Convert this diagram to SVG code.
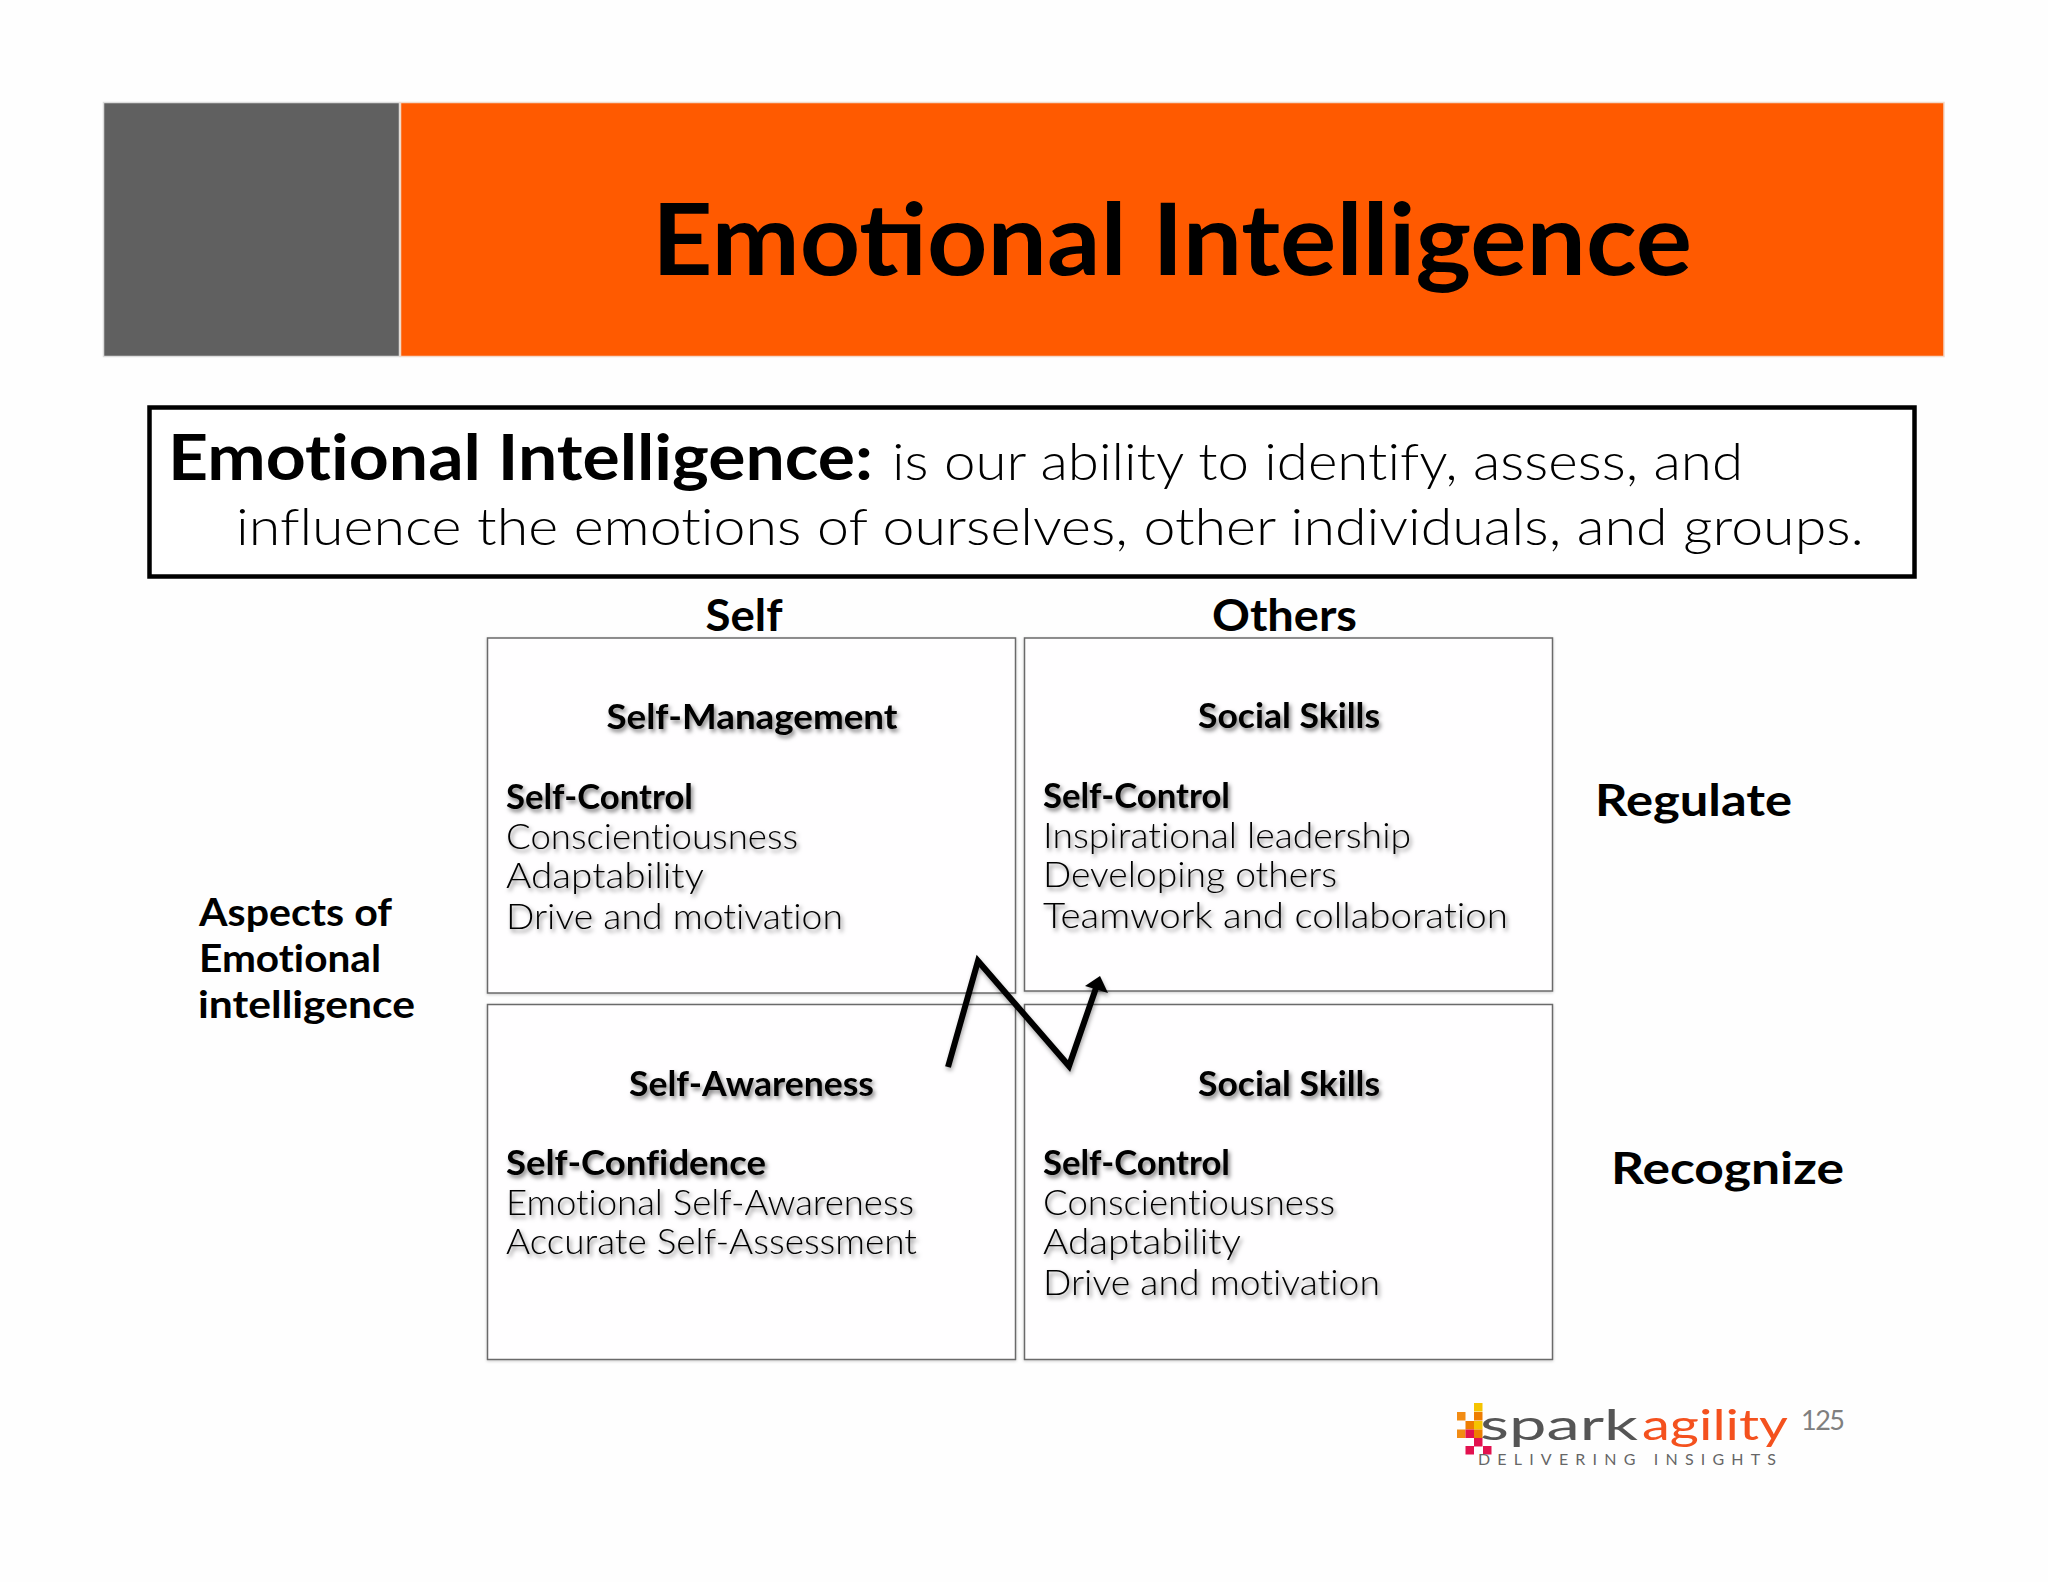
<svg xmlns="http://www.w3.org/2000/svg" width="2048" height="1582" viewBox="0 0 2048 1582">
<defs>
<style>
text{font-family:Lato,"Liberation Sans",sans-serif;fill:#000;font-variant-ligatures:none}
.b{font-weight:700}
.l{font-weight:300}
.h{font-size:35px;font-weight:700;filter:url(#ts)}
.t{font-size:35px;font-weight:300;filter:url(#ts)}
.cell{fill:#fffeff;stroke:#6a6a6a;stroke-width:1.5;filter:url(#bs)}
.ax{font-size:44px;font-weight:700}
.asp{font-size:38px;font-weight:700}
.sq{stroke:none}
.conn{fill:none;stroke:#000;stroke-width:6;stroke-linejoin:miter}
</style>
<filter id="ts" x="-5%" y="-30%" width="110%" height="170%"><feDropShadow dx="2" dy="3" stdDeviation="2" flood-color="#000" flood-opacity=".5"/></filter>
<filter id="bs" x="-2%" y="-2%" width="104%" height="104%"><feDropShadow dx="0" dy="1" stdDeviation="1.5" flood-color="#000" flood-opacity=".2"/></filter>
<filter id="cs" x="-10%" y="-10%" width="120%" height="120%"><feDropShadow dx="1" dy="3" stdDeviation="2" flood-color="#000" flood-opacity=".35"/></filter>
</defs>
<rect width="2048" height="1582" fill="#fefefe"/>
<g id="banner">
<rect x="103.500" y="102.500" width="296" height="254" fill="#606060" stroke="#ddd" stroke-width="1.500"/>
<rect x="400.500" y="102.500" width="1543.500" height="254" fill="#ff5a00" stroke="#f3d9c8" stroke-width="1.500"/>
<text x="652" y="275" class="b" font-size="100" textLength="1040" lengthAdjust="spacingAndGlyphs" style="font-variant-ligatures:normal">Emotional Intelligence</text>
</g>
<g id="definition">
<rect x="149.500" y="407.500" width="1765" height="169" fill="#fff" stroke="#000" stroke-width="4.500"/>
<text x="168" y="480" class="b" font-size="64" textLength="705" lengthAdjust="spacingAndGlyphs">Emotional Intelligence:</text>
<text x="892" y="480" class="l" font-size="52" textLength="851" lengthAdjust="spacingAndGlyphs">is our ability to identify, assess, and</text>
<text x="236" y="545" class="l" font-size="52" textLength="1628" lengthAdjust="spacingAndGlyphs">influence the emotions of ourselves, other individuals, and groups.</text>
</g>
<g id="axis-labels">
<text x="705.500" y="631" class="ax" textLength="77" lengthAdjust="spacingAndGlyphs">Self</text>
<text x="1212" y="631" class="ax" textLength="145" lengthAdjust="spacingAndGlyphs">Others</text>
<text x="1595" y="816" class="ax" textLength="197" lengthAdjust="spacingAndGlyphs">Regulate</text>
<text x="1611" y="1184" class="ax" textLength="233" lengthAdjust="spacingAndGlyphs">Recognize</text>
</g>
<g id="aspects">
<text x="199" y="926" class="asp" textLength="193" lengthAdjust="spacingAndGlyphs">Aspects of</text>
<text x="199" y="972" class="asp" textLength="182" lengthAdjust="spacingAndGlyphs">Emotional</text>
<text x="198" y="1018" class="asp" textLength="217" lengthAdjust="spacingAndGlyphs">intelligence</text>
</g>
<g id="cell-self-management">
<rect class="cell" x="487.500" y="638" width="528" height="355"/>
<text x="606.500" y="729" class="h" textLength="291" lengthAdjust="spacingAndGlyphs">Self-Management</text>
<text x="506" y="809" class="h" textLength="187" lengthAdjust="spacingAndGlyphs">Self-Control</text>
<text x="506" y="849" class="t" textLength="292" lengthAdjust="spacingAndGlyphs">Conscientiousness</text>
<text x="506" y="888" class="t" textLength="198" lengthAdjust="spacingAndGlyphs">Adaptability</text>
<text x="506" y="929" class="t" textLength="337" lengthAdjust="spacingAndGlyphs">Drive and motivation</text>
</g>
<g id="cell-social-skills-top">
<rect class="cell" x="1024.500" y="638" width="528" height="353"/>
<text x="1198" y="728" class="h" textLength="182" lengthAdjust="spacingAndGlyphs">Social Skills</text>
<text x="1043" y="808" class="h" textLength="187" lengthAdjust="spacingAndGlyphs">Self-Control</text>
<text x="1043" y="848" class="t" textLength="368" lengthAdjust="spacingAndGlyphs">Inspirational leadership</text>
<text x="1043" y="887" class="t" textLength="294" lengthAdjust="spacingAndGlyphs">Developing others</text>
<text x="1043" y="928" class="t" textLength="465" lengthAdjust="spacingAndGlyphs">Teamwork and collaboration</text>
</g>
<g id="cell-self-awareness">
<rect class="cell" x="487.500" y="1004.500" width="528" height="355"/>
<text x="629" y="1096" class="h" textLength="245" lengthAdjust="spacingAndGlyphs">Self-Awareness</text>
<text x="506" y="1175" class="h" textLength="260" lengthAdjust="spacingAndGlyphs">Self-Confidence</text>
<text x="506" y="1215" class="t" textLength="408" lengthAdjust="spacingAndGlyphs">Emotional Self-Awareness</text>
<text x="506" y="1254" class="t" textLength="411" lengthAdjust="spacingAndGlyphs">Accurate Self-Assessment</text>
</g>
<g id="cell-social-skills-bottom">
<rect class="cell" x="1024.500" y="1004.500" width="528" height="355"/>
<text x="1198" y="1096" class="h" textLength="182" lengthAdjust="spacingAndGlyphs">Social Skills</text>
<text x="1043" y="1175" class="h" textLength="187" lengthAdjust="spacingAndGlyphs">Self-Control</text>
<text x="1043" y="1215" class="t" textLength="292" lengthAdjust="spacingAndGlyphs">Conscientiousness</text>
<text x="1043" y="1254" class="t" textLength="198" lengthAdjust="spacingAndGlyphs">Adaptability</text>
<text x="1043" y="1295" class="t" textLength="337" lengthAdjust="spacingAndGlyphs">Drive and motivation</text>
</g>
<g id="connectors" filter="url(#cs)">
<polyline class="conn" points="948,1067 978,961 1069,1066 1096,988"/>
<polygon points="1100,976 1108,993 1085,986" fill="#000"/>
</g>
<g id="logo">
<rect class="sq" x="1474" y="1403" width="8.500" height="8.500" fill="#f5c400"/>
<rect class="sq" x="1474" y="1412" width="8.500" height="8.500" fill="#ee7d00"/>
<rect class="sq" x="1457" y="1412" width="8.500" height="8.500" fill="#f28c14"/>
<rect class="sq" x="1465.500" y="1421" width="8.500" height="8.500" fill="#ee7d00"/>
<rect class="sq" x="1474" y="1421" width="8.500" height="8.500" fill="#f5c400"/>
<rect class="sq" x="1457" y="1429.500" width="8.500" height="8.500" fill="#f28c14"/>
<rect class="sq" x="1465.500" y="1429.500" width="8.500" height="8.500" fill="#e2114f"/>
<rect class="sq" x="1474" y="1429.500" width="8.500" height="8.500" fill="#ee7d00"/>
<rect class="sq" x="1474" y="1438" width="8.500" height="8.500" fill="#e2114f"/>
<rect class="sq" x="1465.500" y="1446" width="8.500" height="8.500" fill="#e2114f"/>
<rect class="sq" x="1483" y="1446" width="8.500" height="8.500" fill="#e2114f"/>
<text x="1480" y="1440" font-size="42" font-weight="400" style="fill:#555" textLength="158" lengthAdjust="spacingAndGlyphs">spark</text>
<text x="1642" y="1440" font-size="42" font-weight="400" style="fill:#f4511e" textLength="146" lengthAdjust="spacingAndGlyphs">agility</text>
<text x="1478" y="1465" font-size="16" style="fill:#666" textLength="298">DELIVERING INSIGHTS</text>
<text x="1801" y="1430" font-size="27" style="fill:#7f7f7f" textLength="44">125</text>
</g>
</svg>
